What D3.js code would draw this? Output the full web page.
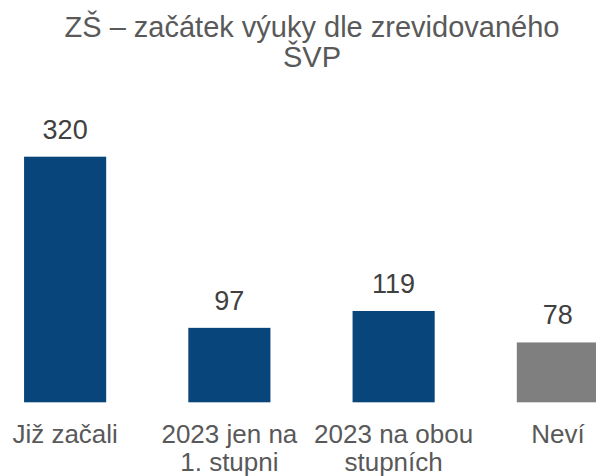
<!DOCTYPE html>
<html>
<head>
<meta charset="utf-8">
<script src="https://cdn.jsdelivr.net/npm/d3@7"></script>
<style>
  body { margin: 0; background: #fff; }
  svg { display: block; font-family: Arial, "Liberation Sans", sans-serif; }
</style>
</head>
<body>
<svg id="chart" width="596" height="476"></svg>
<script>
const categories = ["Již začali", "2023 jen na|1. stupni", "2023 na obou|stupních", "Neví"];
const values = [320, 97, 119, 78];
const barColors = ["#08457a", "#08457a", "#08457a", "#7f7f7f"];
const titleLines = ["ZŠ – začátek výuky dle zrevidovaného", "ŠVP"];

var svg = d3.select("#chart");

var x = d3.scaleBand()
  .domain(categories)
  .range([-17, 640])
  .paddingInner(0.5)
  .paddingOuter(0.25);

var y = d3.scaleLinear()
  .domain([0, 320])
  .range([402.3, 156.7]);

// title (first line is cut off in the source)
svg.append("text")
  .attr("y", 37)
  .attr("text-anchor", "middle")
  .style("font-size", "29px")
  .style("fill", "#595959")
  .selectAll("tspan")
  .data(titleLines)
  .enter()
  .append("tspan")
  .attr("x", 312)
  .attr("dy", function(d, i) { return i == 0 ? 0 : 29.5; })
  .text(function(d) { return d; });

svg.selectAll(".bar")
  .data(values)
  .enter()
  .append("rect")
  .attr("class", "bar")
  .attr("x", function(d, i) { return x(categories[i]); })
  .attr("y", function(d) { return y(d); })
  .attr("width", x.bandwidth())
  .attr("height", function(d) { return y(0) - y(d); })
  .style("fill", function(d, i) { return barColors[i]; });

svg.selectAll(".value")
  .data(values)
  .enter()
  .append("text")
  .attr("class", "value")
  .attr("x", function(d, i) { return x(categories[i]) + x.bandwidth() / 2; })
  .attr("y", function(d) { return y(d) - 18; })
  .attr("text-anchor", "middle")
  .style("font-size", "27px")
  .style("fill", "#404040")
  .text(function(d) { return d; });

var cat = svg.selectAll(".cat")
  .data(categories)
  .enter()
  .append("text")
  .attr("class", "cat")
  .attr("text-anchor", "middle")
  .attr("y", 443)
  .style("font-size", "26px")
  .style("fill", "#595959");

cat.selectAll("tspan")
  .data(function(d) { return d.split("|").map(function(s) { return { c: d, s: s }; }); })
  .enter()
  .append("tspan")
  .attr("x", function(d) { return x(d.c) + x.bandwidth() / 2; })
  .attr("dy", function(d, i) { return i == 0 ? 0 : 28; })
  .text(function(d) { return d.s; });
</script>
</body>
</html>
